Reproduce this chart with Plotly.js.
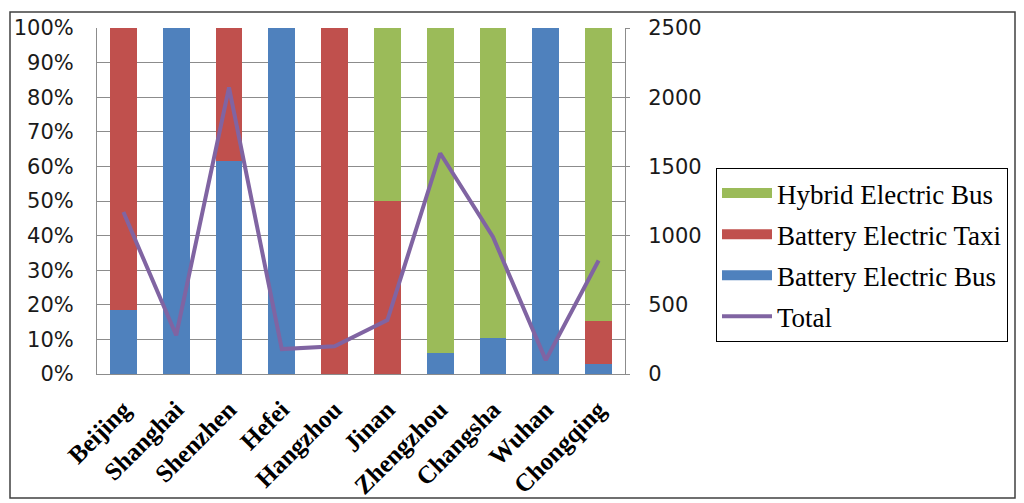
<!DOCTYPE html>
<html>
<head>
<meta charset="utf-8">
<script src="https://cdn.plot.ly/plotly-3.0.1.min.js"></script>
<style>
  body { margin: 0; background: #fff; }
  #chart { width: 1024px; height: 503px; }
</style>
</head>
<body>
<div id="chart"></div>
<script>
// cities on the x axis
let cities = ['Beijing', 'Shanghai', 'Shenzhen', 'Hefei', 'Hangzhou',
              'Jinan', 'Zhengzhou', 'Changsha', 'Wuhan', 'Chongqing'];

// share of each vehicle type, in percent (left axis)
let batteryBus  = [18.5, 100, 61.5, 100, 0,   0,  6,  10.5, 100, 2.9];
let batteryTaxi = [81.5, 0,   38.5, 0,   100, 50, 0,  0,    0,   12.4];
let hybridBus   = [0,    0,   0,    0,   0,   50, 94, 89.5, 0,   84.7];

// total number of vehicles (right axis)
let totals = [1170, 280, 2070, 180, 200, 390, 1595, 990, 100, 820];

let colors = { bus: '#4f81bd', taxi: '#c0504d', hybrid: '#9bbb59', total: '#8064a2' };
let gridColor = '#8c8c8c';

function barTrace(name, values, color) {
  return {
    type: 'bar',
    name: name,
    x: cities,
    y: values,
    marker: { color: color, line: { width: 0 } },
    showlegend: false,
    hoverinfo: 'skip'
  };
}

// legend entries drawn as wide bands like the original, no data of their own
function legendKey(name, color, width) {
  return {
    type: 'scatter',
    mode: 'lines',
    name: name,
    x: [null],
    y: [null],
    line: { color: color, width: width },
    legendgroup: name
  };
}

let traces = [
  barTrace('Battery Electric Bus', batteryBus, colors.bus),
  barTrace('Battery Electric Taxi', batteryTaxi, colors.taxi),
  barTrace('Hybrid Electric Bus', hybridBus, colors.hybrid),
  {
    type: 'scatter',
    mode: 'lines',
    name: 'Total',
    x: cities,
    y: totals,
    yaxis: 'y2',
    line: { color: colors.total, width: 4 },
    showlegend: false
  },
  legendKey('Hybrid Electric Bus', colors.hybrid, 14),
  legendKey('Battery Electric Taxi', colors.taxi, 14),
  legendKey('Battery Electric Bus', colors.bus, 14),
  legendKey('Total', colors.total, 4)
];

// plot area is 97..625 px wide, 28..374 px high
let L = 97, R = 625, T = 28, B = 374;
let W = 1024, H = 503;
function px(x) { return (x - L) / (R - L); }
function py(y) { return (B - y) / (B - T); }

let layout = {
  width: W,
  height: H,
  margin: { l: L, r: W - R, t: T, b: H - B },
  paper_bgcolor: '#fff',
  plot_bgcolor: '#fff',
  barmode: 'stack',
  bargap: 0.49,
  showlegend: true,
  font: { family: 'DejaVu Sans', color: '#1a1a1a' },
  xaxis: {
    type: 'category',
    tickangle: -45,
    tickfont: { family: 'Liberation Serif', size: 25, color: '#000', weight: 'bold' },
    showline: true,
    linecolor: gridColor,
    linewidth: 1,
    showgrid: false,
    ticks: '',
    ticklabelstandoff: 10
  },
  yaxis: {
    range: [0, 100],
    dtick: 10,
    ticksuffix: '%',
    tickfont: { family: 'DejaVu Sans', size: 21, color: '#1a1a1a' },
    showgrid: true,
    gridcolor: gridColor,
    gridwidth: 1,
    showline: true,
    linecolor: gridColor,
    zeroline: false,
    ticks: '',
    ticklabelstandoff: 18
  },
  yaxis2: {
    overlaying: 'y',
    side: 'right',
    range: [0, 2500],
    dtick: 500,
    tickfont: { family: 'DejaVu Sans', size: 21, color: '#1a1a1a' },
    showgrid: false,
    showline: true,
    linecolor: gridColor,
    ticks: 'outside',
    ticklen: 4,
    tickcolor: gridColor,
    zeroline: false,
    ticklabelstandoff: 14
  },
  legend: {
    x: px(716),
    y: py(168),
    xanchor: 'left',
    yanchor: 'top',
    traceorder: 'grouped',
    tracegroupgap: 3,
    bordercolor: '#000',
    borderwidth: 1,
    bgcolor: '#fff',
    font: { family: 'Liberation Serif', size: 27, color: '#000' },
    itemwidth: 50
  },
  shapes: [
    {
      type: 'rect',
      xref: 'paper', yref: 'paper',
      x0: px(10), x1: px(1015), y0: py(498), y1: py(12),
      line: { color: '#404040', width: 1.5 },
      layer: 'below'
    }
  ]
};

Plotly.newPlot('chart', traces, layout, { displayModeBar: false, staticPlot: true });
</script>
</body>
</html>
